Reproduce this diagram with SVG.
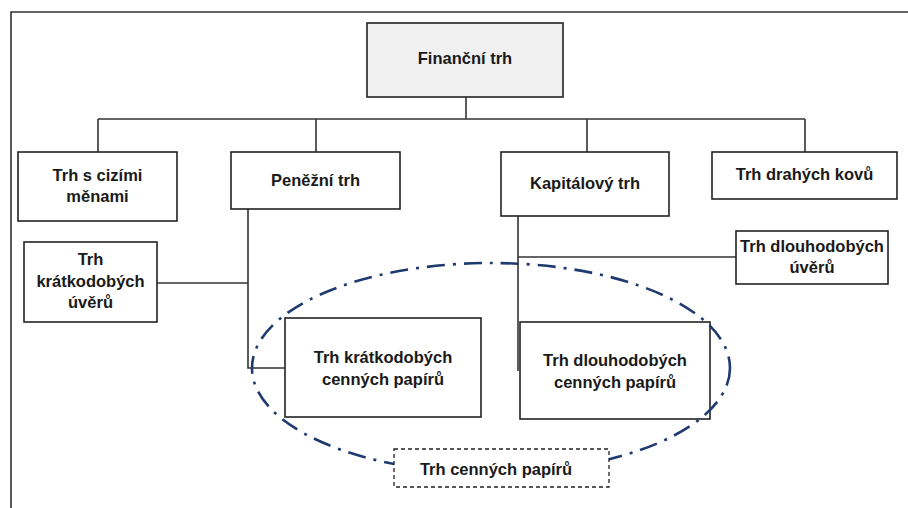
<svg xmlns="http://www.w3.org/2000/svg" width="908" height="508" viewBox="0 0 908 508">
  <style>
    .box { fill: #ffffff; stroke: #222222; stroke-width: 1.6; }
    .root { fill: #f0f0f0; stroke: #222222; stroke-width: 1.6; }
    .dash { fill: #ffffff; stroke: #222222; stroke-width: 1.3; stroke-dasharray: 4 3; }
    .conn { fill: none; stroke: #333333; stroke-width: 1.6; }
    .frame { fill: none; stroke: #333333; stroke-width: 1.6; }
    .oval { fill: none; stroke: #1f3a6e; stroke-width: 2.6; stroke-dasharray: 18 8 3 8; }
    text { font-family: "Liberation Sans", Arial, sans-serif; font-weight: bold; font-size: 16.5px; fill: #1a1a1a; text-anchor: middle; }
  </style>
  <rect width="908" height="508" fill="#ffffff"/>
  <path class="frame" d="M11,508 V12 H908"/>

  <g id="connectors">
    <path class="conn" d="M466,97 V119"/>
    <path class="conn" d="M98,119 H805" stroke="#555555" stroke-width="2"/>
    <path class="conn" d="M98,119 V152"/>
    <path class="conn" d="M316,119 V152"/>
    <path class="conn" d="M587,119 V152"/>
    <path class="conn" d="M805,119 V152"/>
    <path class="conn" d="M248,209 V368 H285"/>
    <path class="conn" d="M157,283 H248"/>
    <path class="conn" d="M518,216 V371"/>
    <path class="conn" d="M518,257 H736"/>
  </g>

  <g id="financni-trh">
    <rect class="root" x="367" y="23" width="196" height="74"/>
    <text x="465" y="64">Finanční trh</text>
  </g>

  <g id="trh-s-cizimi-menami">
    <rect class="box" x="18" y="152" width="159" height="69"/>
    <text x="97.5" y="181">Trh s cizími</text>
    <text x="97.5" y="202">měnami</text>
  </g>

  <g id="penezni-trh">
    <rect class="box" x="231" y="152" width="169" height="57"/>
    <text x="315.5" y="186">Peněžní trh</text>
  </g>

  <g id="kapitalovy-trh">
    <rect class="box" x="501" y="152" width="168" height="64"/>
    <text x="585" y="189">Kapitálový trh</text>
  </g>

  <g id="trh-drahych-kovu">
    <rect class="box" x="712" y="152" width="185" height="47"/>
    <text x="804.5" y="180">Trh drahých kovů</text>
  </g>

  <g id="trh-dlouhodobych-uveru">
    <rect class="box" x="736" y="231" width="152" height="53"/>
    <text x="812" y="252">Trh dlouhodobých</text>
    <text x="812" y="273">úvěrů</text>
  </g>

  <g id="trh-kratkodobych-uveru">
    <rect class="box" x="24" y="242" width="133" height="80"/>
    <text x="90.5" y="265">Trh</text>
    <text x="90.5" y="287">krátkodobých</text>
    <text x="90.5" y="308">úvěrů</text>
  </g>

  <g id="trh-kratkodobych-cp">
    <rect class="box" x="285" y="318" width="196" height="99"/>
    <text x="383" y="363">Trh krátkodobých</text>
    <text x="383" y="385">cenných papírů</text>
  </g>

  <g id="trh-dlouhodobych-cp">
    <rect class="box" x="520" y="322" width="190" height="97"/>
    <text x="615" y="366">Trh dlouhodobých</text>
    <text x="615" y="388">cenných papírů</text>
  </g>

  <g id="trh-cennych-papiru">
    <ellipse class="oval" cx="491" cy="368" rx="239" ry="105"/>
    <rect class="dash" x="394" y="449" width="215" height="38"/>
    <text x="496" y="475">Trh cenných papírů</text>
  </g>
</svg>
